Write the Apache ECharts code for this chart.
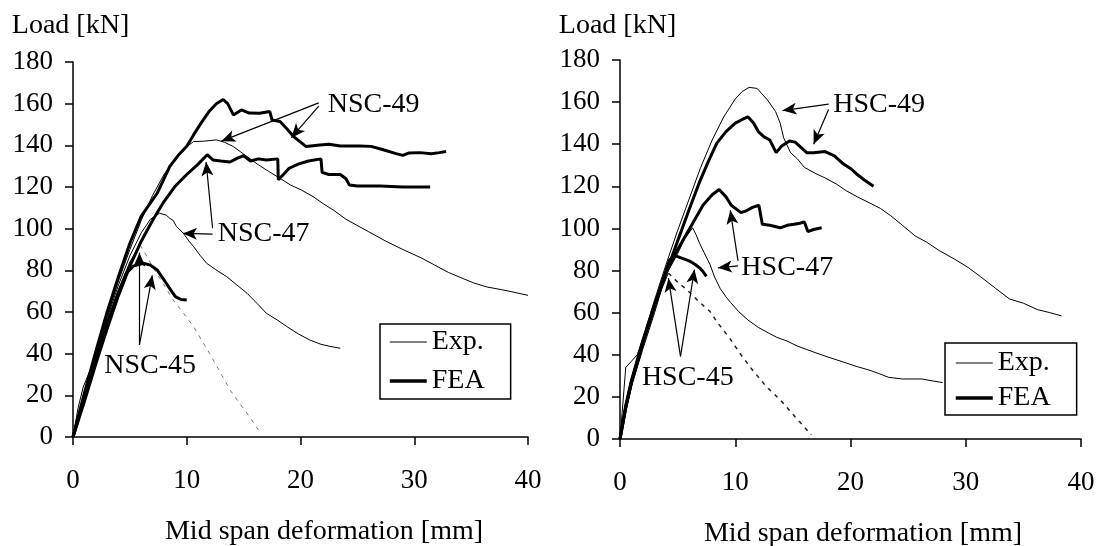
<!DOCTYPE html>
<html>
<head>
<meta charset="utf-8">
<script src="https://cdn.jsdelivr.net/npm/echarts@6/dist/echarts.min.js"></script>
<style>
  html, body { margin: 0; padding: 0; background: #fff; }
  #load-deformation-chart { width: 1099px; height: 546px; }
</style>
</head>
<body>
<div id="load-deformation-chart"></div>
<script>
// mid span deformation [mm] vs load [kN]

// ---- NSC beams (left panel) ----
var nsc49Exp = [[0,0],[1,21],[2,40],[3,58],[4,75],[5,90],[6,104],[7,116],[8,126],[9,133.5],[10,139.4],[10.6,141.8],[11.5,142],[12.6,142.6],[13.3,141.5],[14.1,139.4],[14.7,137],[15.3,134.6],[16.2,131],[17.2,127.5],[18.2,124.2],[19.1,121],[20.1,118.5],[21.1,115.4],[22,112],[23,108.5],[24,104.5],[24.9,101.8],[26,98.5],[27.5,94],[29,90],[30.6,86],[31.8,82.5],[33,79],[34.1,76.5],[35.2,74],[36.4,72],[37.7,70.7],[39,69.2],[40,68]];
var nsc47Exp = [[0,0],[0.45,14],[0.9,24],[1.5,32],[2,40],[3,57],[4,73],[5,87],[6,98],[6.8,104.5],[7.6,107.4],[8.2,106.5],[8.5,105],[8.8,104],[9.1,101],[9.7,97.8],[10.2,94],[10.6,91.4],[11.2,87],[11.75,83.4],[12.5,80.5],[13.5,77],[14.4,73],[15.3,69],[16.2,64],[17,59.4],[18,56],[18.8,53],[19.8,49.5],[20.8,46.6],[21.8,44.5],[22.6,43.5],[23.5,42.6]];
var nsc45Exp = [[0,0],[1,20],[2,38],[3,56],[4,71],[5,84],[5.9,92.2]];
var nsc45ExpTail = [[5.9,92.2],[6.5,86.6],[7.2,80],[8,73],[8.8,65.8],[9.7,59.5],[10.6,53],[11.3,46.5],[12,40.2],[12.9,31.5],[13.8,22.6],[14.6,16.5],[15.3,11.4],[16.3,3.4]];
var nsc49Fea = [[0,0],[1,21],[2,41],[3,60],[4,77],[5,93],[6,106],[7.4,117],[8.5,129.8],[9.3,135.5],[10,139.6],[10.6,145],[11.3,151],[12,156.5],[12.6,160],[13.2,162],[13.6,160],[14.1,154.6],[14.8,157],[15.5,155.5],[16.4,155.4],[17.3,156.2],[17.5,152.2],[18.2,151.4],[18.8,148],[19.4,144.2],[20.5,139.4],[21.7,140.2],[22.5,140.5],[23.5,139.7],[25.2,139.7],[26.2,139.5],[27.2,138],[28.4,136],[29,135.2],[29.5,136.3],[30.5,136.5],[31.5,136],[32.2,136.5],[32.8,137]];
var nsc47Fea = [[0,0],[1,17],[2,35],[3,52],[4,68],[5,82],[6,94],[7,104],[8,113],[9,120.5],[10,126],[11,131],[11.8,135.5],[12.3,133],[13,132.5],[13.8,132],[14.5,134],[15,135],[15.6,132.5],[16.3,133.5],[17,133],[18,133.5],[18.05,123.5],[18.5,126],[19,129],[19.8,131],[20.7,132.5],[21.8,133.5],[21.9,127],[22.5,126],[23.5,126],[24,124],[24.3,121],[25,120.5],[27,120.5],[29,120],[31.4,120]];
var nsc45Fea = [[0,0],[1,19],[2,37],[3,54],[4,69],[4.7,78.6],[5.3,82],[6.2,83.4],[6.8,82.5],[7.4,80.2],[7.8,77],[8.2,73.8],[8.6,70.5],[9,67.4],[9.5,66],[10,65.8]];

// ---- HSC beams (right panel) ----
var hsc49Exp = [[0,0],[0.5,16],[1,28],[2,48],[3,66],[4,83],[5,99],[6,114],[7,129],[8,142],[9,153],[10,161.5],[10.6,165],[11.2,167],[11.9,166.5],[12.3,164],[12.8,161],[13.5,155.5],[13.9,150],[14.2,143],[14.8,136],[15.4,133],[16,129],[17,126],[17.8,124],[18.8,121],[19.6,118],[20.6,115],[21.7,112],[22.6,109.5],[23.5,106],[24.5,101.5],[25.6,96.5],[26.6,93.5],[27.7,89.5],[29,85.5],[30.2,81.5],[31.3,77],[32.6,71.5],[33.8,66.5],[35,64.5],[36.2,61.5],[37.3,60],[38.3,58.5]];
var hsc47Exp = [[0,0],[0.5,34],[1,37],[1.5,40],[2,48],[3,63],[4,78],[5,88],[5.6,95],[6.3,100.3],[6.6,97],[6.9,93],[7.3,88.5],[7.8,83],[8.2,77],[8.7,71.4],[9.2,67.5],[9.6,64.8],[10.3,60.5],[11.1,56.5],[12,53],[13,50],[13.6,48.3],[14.5,46.5],[15.4,44.1],[16.2,42.5],[17,40.9],[18,39],[19.3,36.7],[20.5,34.5],[21.7,32.6],[22.5,31],[23.3,29.3],[24.5,28.5],[26.2,28.5],[27.2,27.5],[28,26.8]];
var hsc45Exp = [[0,0],[0.5,13],[1,25],[2,43],[3,60],[3.6,71],[4.2,78.8]];
var hsc45ExpTail = [[4.2,78.8],[5,74.5],[5.8,70.9],[6.8,65.5],[7.8,60.6],[8.5,55],[9.5,48],[10.5,40],[11.4,33.4],[12.6,25.5],[13.9,18.6],[15.2,10.5],[16.6,2]];
var hsc49Fea = [[0,0],[0.5,15],[1,27],[2,46],[3,63],[4,79],[5,94],[6,109],[6.9,122],[7.6,131],[8.4,140.5],[9.2,146],[10,150],[10.7,152],[11.1,153],[11.6,150],[12,146],[12.5,143.5],[13,142],[13.55,136],[14,139],[14.7,141.5],[15.2,141],[15.7,138.5],[16.2,136],[16.8,136],[17.8,136.5],[18.6,134.5],[19.3,131],[20,128.5],[20.5,126],[21.2,123],[22,120]];
var hsc47Fea = [[0,0],[0.5,16],[1,28],[2,47],[3,64],[4,79],[5,90],[6,99.5],[7.2,111],[8,116],[8.6,118.5],[9.2,115],[9.65,111],[10.5,107.5],[11,108.5],[11.5,110],[12.05,111],[12.35,102],[13,101.5],[13.9,100.3],[14.5,101.5],[15.1,102],[15.6,102.5],[16,103.1],[16.3,98.5],[16.8,99.5],[17.5,100.3]];
var hsc45Fea = [[0,0],[0.5,15],[1,27],[2,46],[3,63],[3.8,77],[4.3,85],[4.7,87.2],[5.3,86],[6,84.6],[6.5,83],[6.9,81.3],[7.2,79.5],[7.5,77.2]];

// curve labels [x, y, text] and arrows [fromX, fromY, toX, toY]
var nscLabels = [[22.4,159.6,'NSC-49'],[12.73,97.7,'NSC-47'],[2.75,34.1,'NSC-45']];
var nscArrows = [[21.6,160.4,13.04,142],[21.6,158.8,19.2,143.7],[12.27,100.2,11.7,132],[12.27,97.4,9.67,97.7],[5.84,44.2,5.84,88.5],[5.84,44.2,6.97,77.6]];
var hscLabels = [[18.5,159,'HSC-49'],[10.53,81.3,'HSC-47'],[1.9,29.3,'HSC-45']];
var hscArrows = [[18.1,159,14.1,156],[18.1,156.5,16.8,140],[10.24,84.6,9.57,108.6],[10.24,82.2,8.5,81.3],[5.25,39.2,4.2,76.4],[5.25,39.2,6.46,80.5]];

var xMin = 0, xMax = 40, xStep = 10;
var yMin = 0, yMax = 180, yStep = 20;

var FONT = 'Liberation Serif';

function makeXAxis(grid, namePad) {
	return {
		gridIndex: grid, type: 'value', min: xMin, max: xMax, interval: xStep,
		name: 'Mid span deformation [mm]', nameLocation: 'middle', nameGap: 81,
		nameTextStyle: { fontFamily: FONT, fontSize: 28, color: '#000', padding: [0, 0, 0, namePad] },
		axisLine: { lineStyle: { color: '#000', width: 1.5 } },
		axisTick: { show: true, inside: false, length: 8, lineStyle: { color: '#000', width: 1.5 } },
		axisLabel: { fontFamily: FONT, fontSize: 27, color: '#000', margin: 30 },
		splitLine: { show: false }
	};
}
function makeYAxis(grid, gap) {
	return {
		gridIndex: grid, type: 'value', min: yMin, max: yMax, interval: yStep,
		name: 'Load [kN]', nameLocation: 'end', nameGap: gap,
		nameTextStyle: { fontFamily: FONT, fontSize: 28, color: '#000', padding: [0, 5, 0, 0] },
		axisLine: { show: true, lineStyle: { color: '#000', width: 1.5 } },
		axisTick: { show: true, inside: false, length: 8, lineStyle: { color: '#000', width: 1.5 } },
		axisLabel: { fontFamily: FONT, fontSize: 27, color: '#000', margin: 20 },
		splitLine: { show: false }
	};
}
function curve(name, data, idx, width, dashed) {
	return {
		name: name, type: 'line', data: data, xAxisIndex: idx, yAxisIndex: idx,
		showSymbol: false, symbol: 'none', silent: true,
		itemStyle: { color: '#000' },
		lineStyle: dashed
			? { color: dashed, width: width, type: [4, 5] }
			: { color: '#000', width: width }
	};
}
function notes(labels, arrows, idx) {
	return {
		name: 'notes' + idx, type: 'scatter', xAxisIndex: idx, yAxisIndex: idx,
		symbolSize: 0, silent: true,
		itemStyle: { color: '#000', opacity: 1 },
		data: labels.map(function (d) { return { value: [d[0], d[1]], name: d[2] }; }),
		label: { show: true, position: 'right', distance: 0, formatter: '{b}',
			fontFamily: FONT, fontSize: 28, color: '#000', opacity: 1 },
		markLine: {
			silent: true, symbol: ['none', 'arrow'], symbolSize: [9, 14],
			label: { show: false },
			lineStyle: { color: '#000', width: 1.2, type: 'solid', opacity: 1 },
			data: arrows.map(function (a) { return [{ coord: [a[0], a[1]] }, { coord: [a[2], a[3]] }]; })
		}
	};
}

var legendBase = {
	orient: 'vertical', selectedMode: false,
	data: [
		{ name: 'Exp.', lineStyle: { width: 1, color: '#000' } },
		{ name: 'FEA', lineStyle: { width: 3.5, color: '#000' } }
	],
	itemWidth: 37, itemHeight: 14, borderColor: '#000', borderWidth: 1.5,
	itemStyle: { opacity: 0 },
	textStyle: { fontFamily: FONT, fontSize: 28, color: '#000' }
};

var option = {
	backgroundColor: '#fff',
	animation: false,
	grid: [
		{ left: 73, right: 571, top: 62, bottom: 109, outerBoundsMode: 'none', containLabel: false },
		{ left: 620, right: 18, top: 60, bottom: 107, outerBoundsMode: 'none', containLabel: false }
	],
	xAxis: [makeXAxis(0, 47), makeXAxis(1, 25)],
	yAxis: [makeYAxis(0, 22), makeYAxis(1, 20)],
	legend: [
		Object.assign({}, legendBase, { left: 380, top: 324, itemGap: 11, padding: [4, 26, 4, 8] }),
		Object.assign({}, legendBase, { left: 945, top: 343, itemGap: 7, padding: [6, 26, 3, 9] })
	],
	series: [
		curve('Exp.', nsc49Exp, 0, 1),
		curve('Exp.', nsc47Exp, 0, 1),
		curve('Exp.', nsc45Exp, 0, 1),
		curve('NSC-45 Exp. tail', nsc45ExpTail, 0, 1, '#777'),
		curve('FEA', nsc49Fea, 0, 3),
		curve('FEA', nsc47Fea, 0, 3),
		curve('FEA', nsc45Fea, 0, 3),
		notes(nscLabels, nscArrows, 0),

		curve('Exp.', hsc49Exp, 1, 1),
		curve('Exp.', hsc47Exp, 1, 1),
		curve('Exp.', hsc45Exp, 1, 1),
		curve('HSC-45 Exp. tail', hsc45ExpTail, 1, 1.5, '#222'),
		curve('FEA', hsc49Fea, 1, 3),
		curve('FEA', hsc47Fea, 1, 3),
		curve('FEA', hsc45Fea, 1, 3),
		notes(hscLabels, hscArrows, 1)
	]
};

var chart = echarts.init(document.getElementById('load-deformation-chart'));
chart.setOption(option);
</script>
</body>
</html>
